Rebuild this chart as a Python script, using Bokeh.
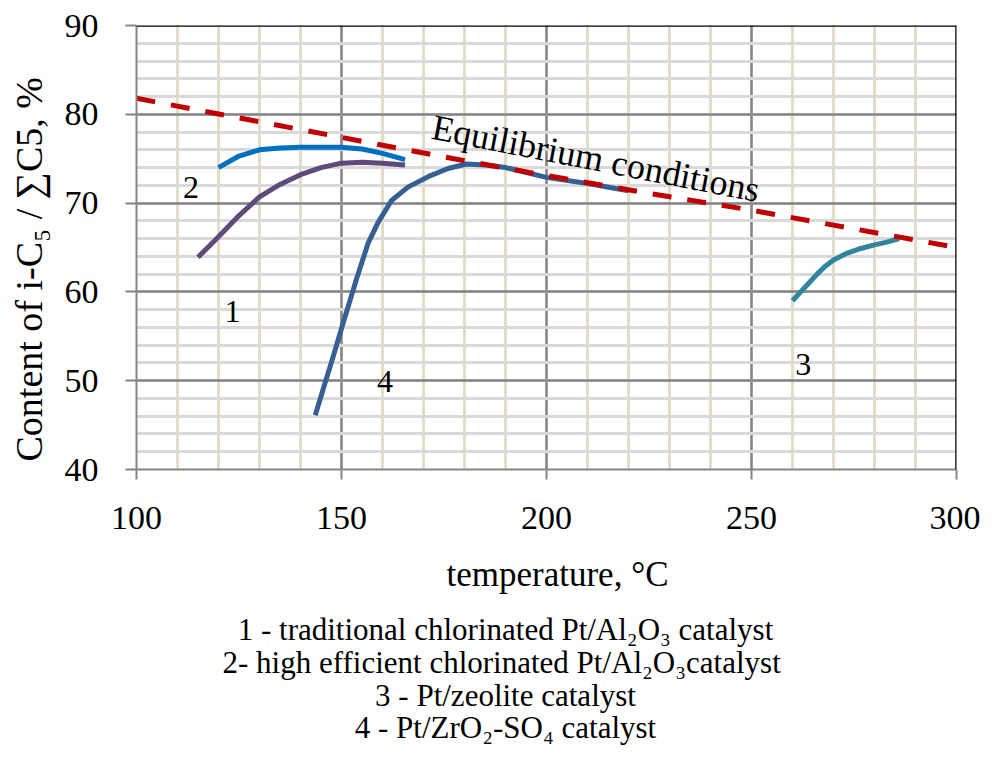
import math
from bokeh.plotting import figure
from bokeh.layouts import column, row
from bokeh.models import Range1d, SingleIntervalTicker, Label, Span
from bokeh.embed import file_html
from bokeh.resources import INLINE

# ---- data ----
eq_t = [100, 125, 150, 175, 200, 225, 250, 275, 300]
eq_y = [81.8, 79.6, 77.4, 75.2, 73.1, 71.1, 69.2, 67.1, 65.0]

c1_t = [115, 120, 125, 130, 135, 140, 145, 150, 155, 160, 165.5]
c1_y = [63.9, 66.2, 68.6, 70.7, 72.1, 73.2, 74.0, 74.5, 74.6, 74.5, 74.3]

c2_t = [120, 125, 130, 135, 140, 145, 150, 155, 160, 165.5]
c2_y = [74.0, 75.3, 76.0, 76.2, 76.3, 76.3, 76.3, 76.1, 75.6, 74.9]

c3_t = [260, 262, 264, 266, 268, 270, 273, 276, 280, 283, 286]
c3_y = [59.0, 60.0, 61.0, 62.0, 62.9, 63.6, 64.3, 64.8, 65.3, 65.6, 66.0]

c4_t = [143.6, 145.5, 147.7, 150.4, 153.7, 156.5, 158.9, 162.2, 166.2, 171.7,
        176, 180.5, 185, 190, 200, 210, 220]
c4_y = [46.1, 49.0, 52.3, 56.5, 61.5, 65.5, 67.8, 70.3, 71.8, 73.1,
        73.9, 74.4, 74.3, 74.0, 72.9, 72.2, 71.4]

curve_names = ["1", "2", "3", "4"]
curve_label_t = [123.4, 113.3, 262.6, 160.6]
curve_label_y = [57.8, 71.8, 51.8, 49.9]

caption_lines = [
    "1 - traditional chlorinated Pt/Al\u2082O\u2083 catalyst",
    "2- high efficient  chlorinated Pt/Al\u2082O\u2083catalyst",
    "3 - Pt/zeolite catalyst",
    "4 - Pt/ZrO\u2082-SO\u2084 catalyst",
]

x_title = "temperature, \u00b0C"
y_title = "Content of i-C\u2085 / \u2211C5, %"
eq_title = "Equilibrium conditions"

FONT = "Liberation Serif"
TOP_H = 550      # height of the chart row
LEFT_W = 56      # width of the y-title strip
W = 980
CAP_H = 197


def blank(width, height):
    f = figure(width=width, height=height, output_backend="svg", toolbar_location=None,
               x_range=Range1d(0, width), y_range=Range1d(0, height),
               x_axis_type=None, y_axis_type=None, min_border=0,
               outline_line_color=None, background_fill_color="white",
               border_fill_color="white")
    f.grid.visible = False
    return f


# ---- y title strip ----
left = blank(LEFT_W, TOP_H)
left.add_layout(Label(x=28, y=TOP_H - 302, text=y_title, text_font=FONT,
                      text_font_size="38px", text_align="center",
                      text_baseline="middle", angle=math.pi / 2, text_color="black"))

# ---- main chart ----
p = figure(width=W - LEFT_W, height=TOP_H, output_backend="svg", toolbar_location=None,
           x_range=Range1d(100, 300), y_range=Range1d(40, 90),
           min_border_left=80, min_border_right=24, min_border_top=25,
           min_border_bottom=81, outline_line_color=None,
           background_fill_color="white", border_fill_color="white")

p.xaxis.ticker = SingleIntervalTicker(interval=50, num_minor_ticks=5)
p.yaxis.ticker = SingleIntervalTicker(interval=10, num_minor_ticks=5)

for ax in (p.xaxis, p.yaxis):
    ax.axis_line_color = "#868686"
    ax.axis_line_width = 2
    ax.major_tick_line_color = "#868686"
    ax.major_tick_line_width = 2
    ax.major_tick_in = 0
    ax.minor_tick_line_color = None
    ax.major_label_text_font = FONT
    ax.major_label_text_font_size = "34px"
    ax.major_label_text_color = "black"
p.xaxis.major_tick_out = 10
p.yaxis.major_tick_out = 11
p.xaxis.major_label_standoff = 27
p.yaxis.major_label_standoff = 27

p.xgrid.grid_line_color = "#868686"
p.xgrid.grid_line_width = 2.5
p.xgrid.minor_grid_line_color = "#e2ddc6"
p.xgrid.minor_grid_line_width = 3
p.ygrid.grid_line_color = "#868686"
p.ygrid.grid_line_width = 2.5
p.ygrid.minor_grid_line_color = "#d9d9d9"
p.ygrid.minor_grid_line_width = 3

# top / right frame borders
p.add_layout(Span(location=90, dimension="width", line_color="black", line_width=2.5))
p.add_layout(Span(location=300, dimension="height", line_color="black", line_width=2.5))

# curves
p.line(c1_t, c1_y, line_color="#5f4a7c", line_width=5)
p.line(c2_t, c2_y, line_color="#0070c0", line_width=5)
p.line(c4_t, c4_y, line_color="#376092", line_width=5)
p.line(c3_t, c3_y, line_color="#31849b", line_width=5)
p.line(eq_t, eq_y, line_color="#c00000", line_width=5, line_dash="19 16")

# curve numbers
for name, tx, ty in zip(curve_names, curve_label_t, curve_label_y):
    p.add_layout(Label(x=tx, y=ty, text=name, text_font=FONT, text_font_size="32px",
                       text_align="center", text_baseline="middle", text_color="black"))

# equilibrium label
p.add_layout(Label(x=172.2, y=78.6, text=eq_title, text_font=FONT,
                   text_font_size="36px", text_align="left",
                   text_baseline="alphabetic", angle=-11.0 * math.pi / 180,
                   text_color="black"))

# ---- x title and caption ----
cap = blank(W, CAP_H)
cap.add_layout(Label(x=557, y=CAP_H - (574 - TOP_H), text=x_title, text_font=FONT,
                     text_font_size="35px", text_align="center",
                     text_baseline="middle", text_color="black"))
cap_base_px = [629, 662, 695, 727]
for line, py in zip(caption_lines, cap_base_px):
    cap.add_layout(Label(x=505, y=CAP_H - (py - TOP_H), text=line, text_font=FONT,
                         text_font_size="31px", text_align="center",
                         text_baseline="alphabetic", text_color="black"))

layout = column(row(left, p), cap)
open("out.html", "w").write(file_html(layout, INLINE))
